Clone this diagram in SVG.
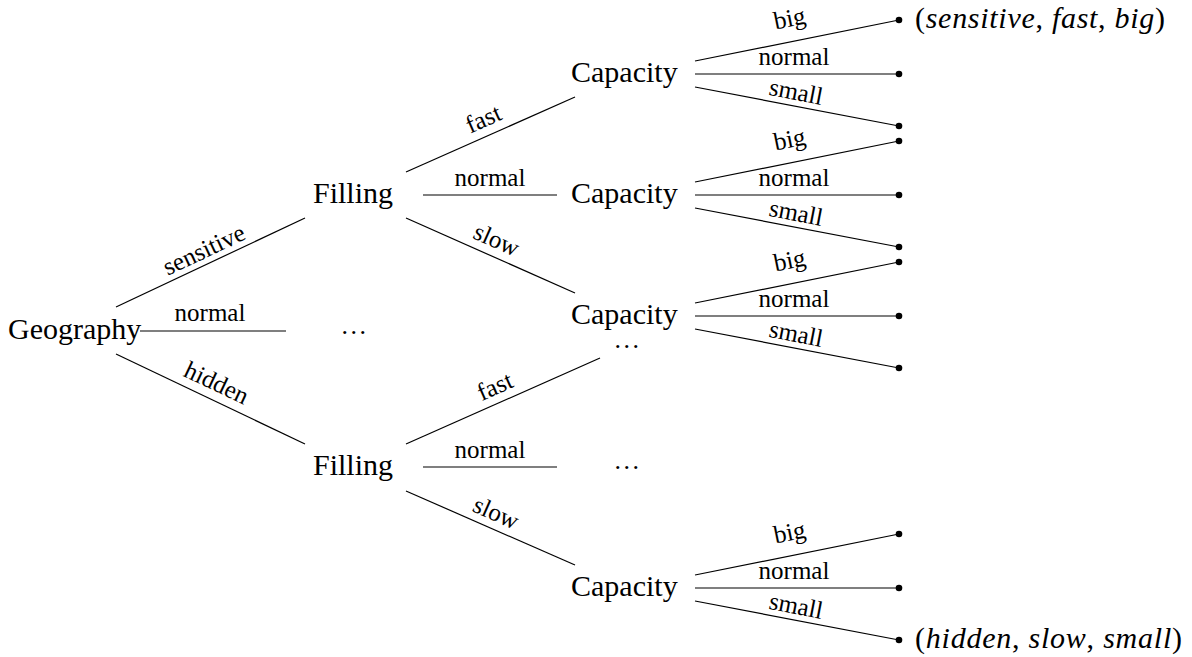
<svg xmlns="http://www.w3.org/2000/svg" width="1192" height="657" viewBox="0 0 1192 657">
<style>
.n{font-family:"Liberation Serif","Times New Roman",serif;font-size:30px;fill:#000}
.l{font-family:"Liberation Serif","Times New Roman",serif;font-size:25px;fill:#000;text-anchor:middle}
.t{font-family:"Liberation Serif","Times New Roman",serif;font-size:30px;fill:#000}
.i{font-style:italic}
.k{font-family:"Liberation Serif","Times New Roman",serif;font-size:26px;fill:#000;text-anchor:middle;letter-spacing:2.5px}
.e{stroke:#000;stroke-width:1.2;fill:none}
.d{fill:#000}
</style>
<rect width="1192" height="657" fill="#fff"/>
<g id="connectors">
  <g id="e-sensitive"><line class="e" x1="116" y1="307" x2="305" y2="218"/><text class="l" transform="translate(204,250) rotate(-25.2)" y="8">sensitive</text></g>
  <g id="e-geo-normal"><line class="e" x1="140" y1="331" x2="286" y2="331"/><text class="l" x="210" y="321">normal</text></g>
  <g id="e-hidden"><line class="e" x1="116" y1="354" x2="305" y2="444"/><text class="l" transform="translate(216.5,383) rotate(25.2)" y="8">hidden</text></g>

  <g id="e-f1-fast"><line class="e" x1="406" y1="172" x2="575" y2="97"/><text class="l" transform="translate(483.5,119) rotate(-23.9)" y="8">fast</text></g>
  <g id="e-f1-normal"><line class="e" x1="423" y1="195" x2="557" y2="195"/><text class="l" x="490" y="186">normal</text></g>
  <g id="e-f1-slow"><line class="e" x1="406" y1="218" x2="575" y2="293"/><text class="l" transform="translate(496.5,240) rotate(23.9)" y="8">slow</text></g>

  <g id="e-f2-fast"><line class="e" x1="406" y1="444" x2="600" y2="358"/><text class="l" transform="translate(495,386.5) rotate(-23.9)" y="8">fast</text></g>
  <g id="e-f2-normal"><line class="e" x1="423" y1="467" x2="557" y2="467"/><text class="l" x="490" y="458">normal</text></g>
  <g id="e-f2-slow"><line class="e" x1="406" y1="491" x2="575" y2="565"/><text class="l" transform="translate(496,513) rotate(23.9)" y="8">slow</text></g>

  <g id="e-c1">
    <line class="e" x1="695" y1="61" x2="899" y2="20"/><text class="l" transform="translate(790,21) rotate(-11.3)" y="5.5">big</text>
    <line class="e" x1="695" y1="74" x2="899" y2="74"/><text class="l" x="794" y="65">normal</text>
    <line class="e" x1="695" y1="87" x2="899" y2="126"/><text class="l" transform="translate(796,92) rotate(11)" y="8">small</text>
  </g>
  <g id="e-c2">
    <line class="e" x1="695" y1="182" x2="899" y2="141"/><text class="l" transform="translate(790,142) rotate(-11.3)" y="5.5">big</text>
    <line class="e" x1="695" y1="195" x2="899" y2="195"/><text class="l" x="794" y="186">normal</text>
    <line class="e" x1="695" y1="208" x2="899" y2="247"/><text class="l" transform="translate(796,213) rotate(11)" y="8">small</text>
  </g>
  <g id="e-c3">
    <line class="e" x1="695" y1="303" x2="899" y2="262"/><text class="l" transform="translate(790,263) rotate(-11.3)" y="5.5">big</text>
    <line class="e" x1="695" y1="316" x2="899" y2="316"/><text class="l" x="794" y="307">normal</text>
    <line class="e" x1="695" y1="329" x2="899" y2="368"/><text class="l" transform="translate(796,334) rotate(11)" y="8">small</text>
  </g>
  <g id="e-c4">
    <line class="e" x1="695" y1="575" x2="899" y2="534"/><text class="l" transform="translate(790,535) rotate(-11.3)" y="5.5">big</text>
    <line class="e" x1="695" y1="588" x2="899" y2="588"/><text class="l" x="794" y="579">normal</text>
    <line class="e" x1="695" y1="601" x2="899" y2="640"/><text class="l" transform="translate(796,606) rotate(11)" y="8">small</text>
  </g>
</g>

<g id="geography"><text class="n" x="8" y="339">Geography</text></g>
<g id="filling-1"><text class="n" x="313" y="203">Filling</text></g>
<g id="dots-geo-normal"><text class="k" x="355" y="334">...</text></g>
<g id="filling-2"><text class="n" x="313" y="475">Filling</text></g>
<g id="capacity-1"><text class="n" x="571" y="82">Capacity</text></g>
<g id="capacity-2"><text class="n" x="571" y="203">Capacity</text></g>
<g id="capacity-3"><text class="n" x="571" y="324">Capacity</text></g>
<g id="dots-f2-fast"><text class="k" x="628" y="348">...</text></g>
<g id="dots-f2-normal"><text class="k" x="628" y="469">...</text></g>
<g id="capacity-4"><text class="n" x="571" y="596">Capacity</text></g>

<g id="leaves">
  <circle class="d" cx="899" cy="20" r="3.3"/>
  <circle class="d" cx="899" cy="74" r="3.3"/>
  <circle class="d" cx="899" cy="126" r="3.3"/>
  <circle class="d" cx="899" cy="141" r="3.3"/>
  <circle class="d" cx="899" cy="195" r="3.3"/>
  <circle class="d" cx="899" cy="247" r="3.3"/>
  <circle class="d" cx="899" cy="262" r="3.3"/>
  <circle class="d" cx="899" cy="316" r="3.3"/>
  <circle class="d" cx="899" cy="368" r="3.3"/>
  <circle class="d" cx="899" cy="534" r="3.3"/>
  <circle class="d" cx="899" cy="588" r="3.3"/>
  <circle class="d" cx="899" cy="640" r="3.3"/>
</g>
<g id="leaf-first"><text class="t" x="915" y="28" textLength="250" lengthAdjust="spacing">(<tspan class="i">sensitive</tspan>, <tspan class="i">fast</tspan>, <tspan class="i">big</tspan>)</text></g>
<g id="leaf-last"><text class="t" x="915" y="648" textLength="267" lengthAdjust="spacing">(<tspan class="i">hidden</tspan>, <tspan class="i">slow</tspan>, <tspan class="i">small</tspan>)</text></g>
</svg>
